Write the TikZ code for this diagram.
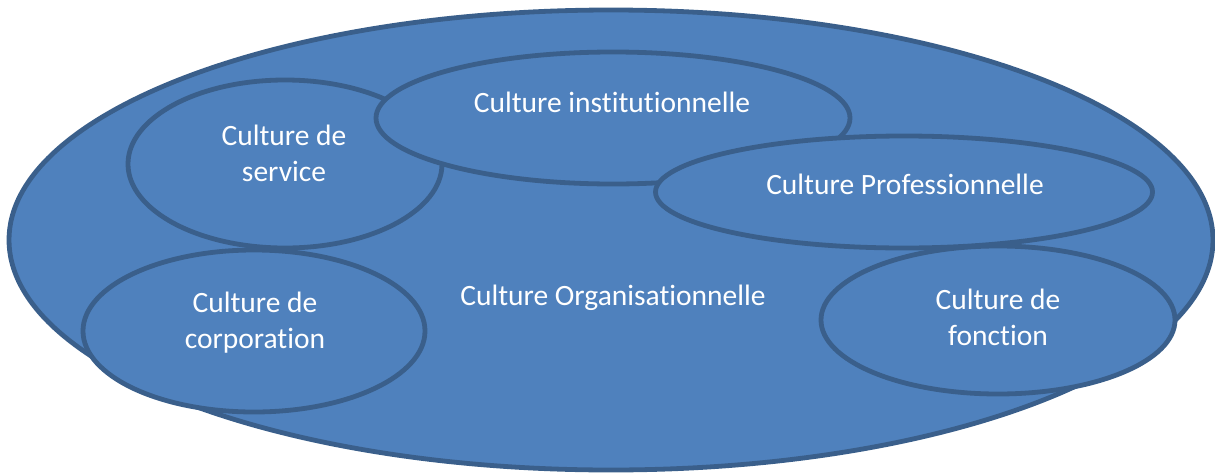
\documentclass[tikz,border=0pt]{standalone}
\usepackage{fontspec}
\setmainfont{Carlito}[RawFeature={-liga;-clig;-calt;-dlig}]
\usepackage{tikz}
\usetikzlibrary{shapes,positioning}
\definecolor{zonefill}{HTML}{4F81BD}
\definecolor{zoneline}{HTML}{3A5F8B}

\begin{document}
\begin{tikzpicture}[x=1pt, y=-1pt, line width=4.8pt]
\tikzstyle{zone}=[ellipse, fill=zonefill, draw=zoneline, inner sep=0pt, outer sep=0pt]
\tikzstyle{txt}=[text=white, align=center, inner sep=0pt, font=\fontsize{29.5}{36}\selectfont]
\useasboundingbox (0,0) rectangle (1215,474);

% outer culture
\node[zone, minimum width=1204pt, minimum height=460pt] (orga) at (611,240) {};
\node[txt] (orgaT) at (613,298) {Culture Organisationnelle};

% inner cultures
\node[zone, minimum width=314pt, minimum height=168pt] (service) at (285,164) {};
\node[txt] (serviceT) at (284,153) {Culture de\\service};

\node[zone, minimum width=474pt, minimum height=132pt] (instit) at (613,118) {};
\node[txt] (institT) at (612,102) {Culture institutionnelle};

\node[zone, minimum width=497pt, minimum height=112pt] (prof) at (904,192) {};
\node[txt] (profT) at (905,184) {Culture Professionnelle};

\node[zone, minimum width=342pt, minimum height=162pt] (corpo) at (254,331) {};
\node[txt] (corpoT) at (255,323) {Culture de\\corporation};

\node[zone, minimum width=354pt, minimum height=148pt] (fonction) at (998,320) {};
\node[txt] (fonctionT) at (998,317) {Culture de\\fonction};

\end{tikzpicture}
\end{document}
